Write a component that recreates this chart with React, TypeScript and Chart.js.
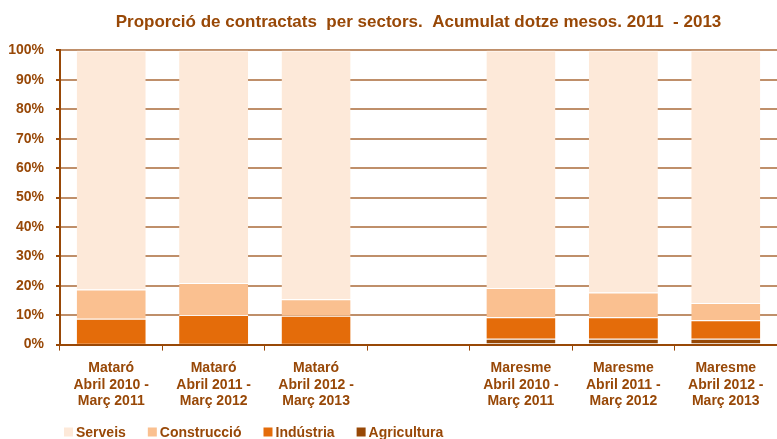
import React, { useEffect, useRef } from "react";
import { Chart, registerables } from "chart.js";

Chart.register(...registerables);

const categories: (string | string[])[] = [
  ["Mataró", "Abril 2010 -", "Març 2011"],
  ["Mataró", "Abril 2011 -", "Març 2012"],
  ["Mataró", "Abril 2012 -", "Març 2013"],
  "",
  ["Maresme", "Abril 2010 -", "Març 2011"],
  ["Maresme", "Abril 2011 -", "Març 2012"],
  ["Maresme", "Abril 2012 -", "Març 2013"],
];

const agricultura = [0.1, 0.1, 0.1, null, 2.0, 2.0, 2.0];
const industria = [8.7, 10.0, 9.7, null, 7.3, 7.3, 6.3];
const construccio = [9.9, 10.8, 5.6, null, 9.9, 8.4, 5.8];
const serveis = [81.3, 79.1, 84.6, null, 80.8, 82.3, 85.9];

const yTicks = [0, 10, 20, 30, 40, 50, 60, 70, 80, 90, 100];

const TEXT = "#984807";
const FONT = "Liberation Sans, Arial, sans-serif";

const legendPlugin = {
  id: "customLegend",
  afterDraw(chart: any) {
    const ctx = chart.ctx;
    const ds = [...chart.data.datasets].reverse();
    ctx.save();
    ctx.font = `bold 14px ${FONT}`;
    ctx.textBaseline = "middle";
    ctx.textAlign = "left";
    let x = 64;
    const y = 432;
    ds.forEach((d: any) => {
      ctx.fillStyle = d.backgroundColor;
      ctx.fillRect(x, y - 4.5, 9, 9);
      ctx.fillStyle = TEXT;
      ctx.fillText(d.label, x + 12, y + 1);
      x += 12 + ctx.measureText(d.label).width + 22;
    });
    ctx.restore();
  },
};

export default function App() {
  const ref = useRef<HTMLCanvasElement | null>(null);
  useEffect(() => {
    if (!ref.current) return;
    const mk = (label: string, data: (number | null)[], color: string) => ({
      label,
      data,
      backgroundColor: color,
      borderColor: "rgba(255,255,255,0.9)",
      borderWidth: { top: 1, left: 0, right: 0, bottom: 0 },
      borderSkipped: false,
      barPercentage: 0.674,
      categoryPercentage: 1,
    });
    const chart = new Chart(ref.current, {
      type: "bar",
      data: {
        labels: categories,
        datasets: [
          mk("Agricultura", agricultura, "#974806"),
          mk("Indústria", industria, "#E46C0A"),
          mk("Construcció", construccio, "#FAC090"),
          mk("Serveis", serveis, "#FDE9D9"),
        ] as any,
      },
      plugins: [legendPlugin],
      options: {
        animation: false,
        responsive: false,
        layout: { padding: { left: 0, right: 0, top: 0, bottom: 20 } },
        plugins: {
          title: {
            display: true,
            fullSize: false,
            text: "Proporció de contractats  per sectors.  Acumulat dotze mesos. 2011  - 2013",
            color: TEXT,
            font: { family: FONT, size: 17, weight: "bold", lineHeight: 1.2 },
            padding: { top: 12, bottom: 18 },
          },
          legend: { display: false },
          tooltip: { enabled: false },
        },
        scales: {
          x: {
            stacked: true,
            offset: true,
            grid: {
              offset: true,
              drawOnChartArea: false,
              drawTicks: true,
              tickLength: 6,
              color: TEXT,
              lineWidth: 1,
            },
            border: { display: true, color: TEXT, width: 2 },
            ticks: {
              color: TEXT,
              maxRotation: 0,
              autoSkip: false,
              padding: 9,
              font: { family: FONT, size: 14, weight: "bold", lineHeight: 1.2 },
            },
          },
          y: {
            stacked: true,
            min: 0,
            max: 100,
            afterFit: (s: any) => {
              s.width = 60;
            },
            afterBuildTicks: (s: any) => {
              s.ticks = yTicks.map((v) => ({ value: v }));
            },
            grid: {
              color: "#BF8F6A",
              lineWidth: 2,
              drawTicks: true,
              tickLength: 4,
              tickColor: TEXT,
            },
            border: { display: true, color: TEXT, width: 2 },
            ticks: {
              color: TEXT,
              padding: 12,
              font: { family: FONT, size: 14, weight: "bold" },
              callback: (v: any) => v + "%",
            },
          },
        },
      } as any,
    });
    return () => chart.destroy();
  }, []);
  return (
    <div style={{ position: "fixed", left: 0, top: 0, width: 777, height: 439, background: "#fff" }}>
      <canvas ref={ref} width={777} height={439} style={{ width: 777, height: 439 }} />
    </div>
  );
}
